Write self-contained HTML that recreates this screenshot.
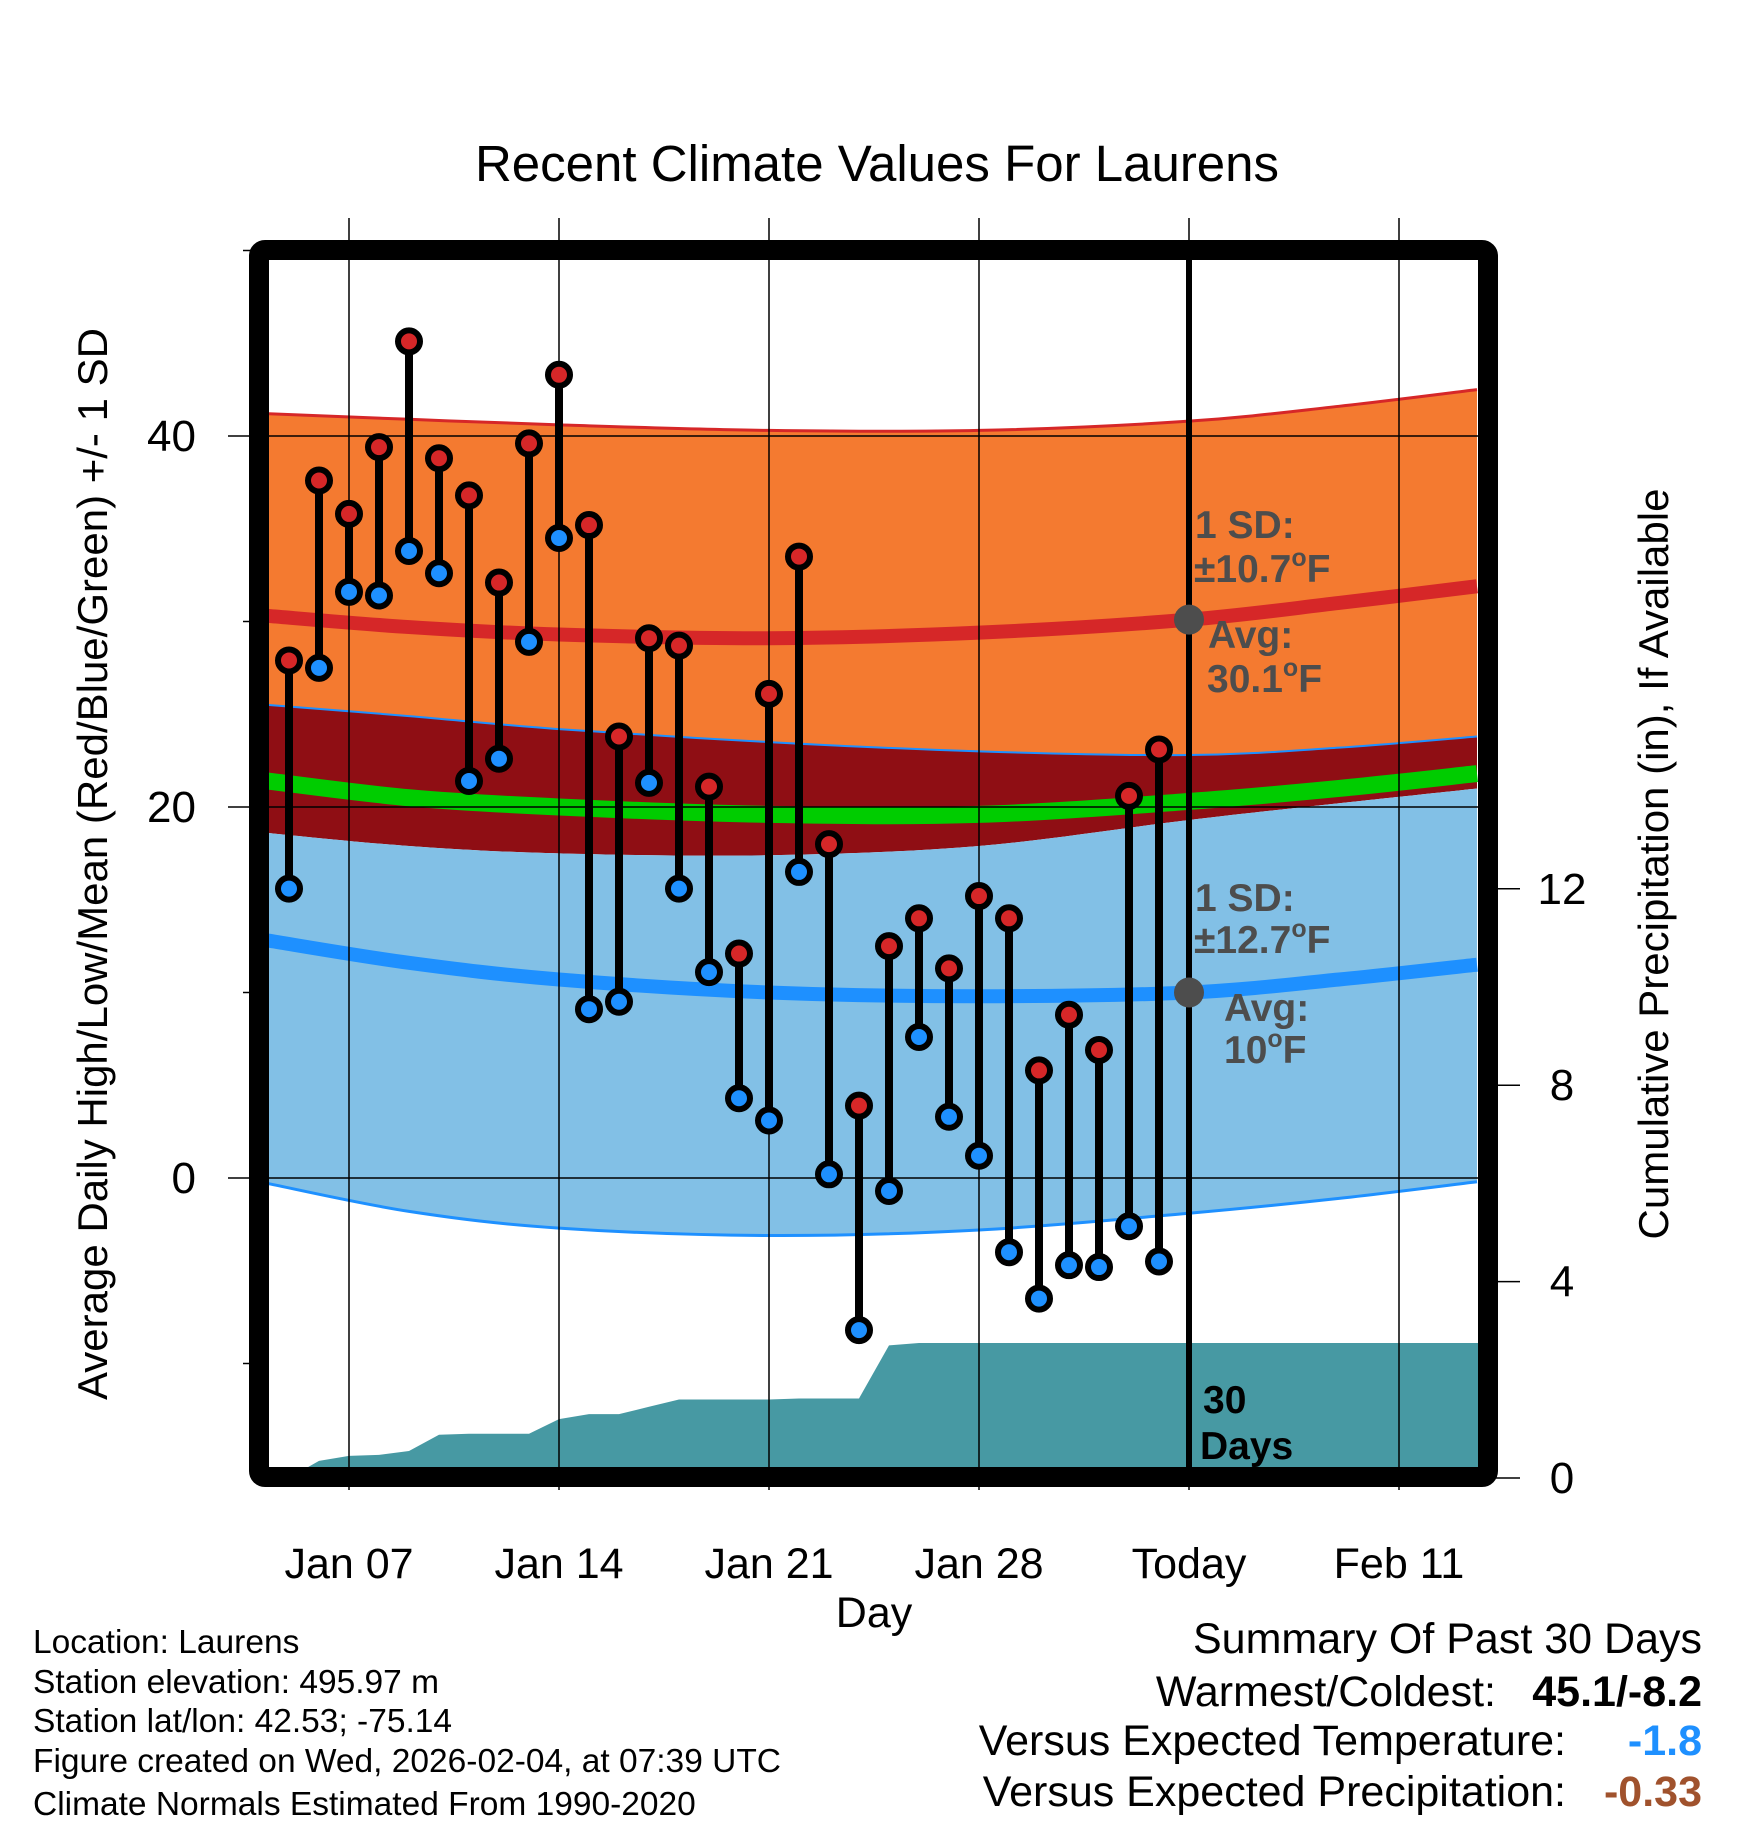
<!DOCTYPE html>
<html><head><meta charset="utf-8"><style>
html,body{margin:0;padding:0;background:#fff}
svg{display:block}
text{font-family:"Liberation Sans",Arial,sans-serif}
</style></head><body>
<svg id="chart" width="1748" height="1828" viewBox="0 0 1748 1828" xmlns="http://www.w3.org/2000/svg">
<defs><clipPath id="plotclip"><rect x="269" y="260" width="1209" height="1207"/></clipPath></defs>
<g id="layers" clip-path="url(#plotclip)"></g>
<g id="over"></g>
</svg>
<script>
// ---- data ----
const dayNums = [5,6,7,8,9,10,11,12,13,14,15,16,17,18,19,20,21,22,23,24,25,26,27,28,29,30,31,32,33,34];
const highs = [27.9,37.6,35.8,39.4,45.1,38.8,36.8,32.1,39.6,43.3,35.2,23.8,29.1,28.7,21.1,12.1,26.1,33.5,18.0,3.9,12.5,14.0,11.3,15.2,14.0,5.8,8.8,6.9,20.6,23.1];
const lows = [15.6,27.5,31.6,31.4,33.8,32.6,21.4,22.6,28.9,34.5,9.1,9.5,21.3,15.6,11.1,4.3,3.1,16.5,0.2,-8.2,-0.7,7.6,3.3,1.2,-4.0,-6.5,-4.7,-4.8,-2.6,-4.5];
const precip = [0.0,0.35,0.45,0.47,0.55,0.88,0.9,0.9,0.9,1.2,1.3,1.3,1.45,1.6,1.6,1.6,1.6,1.62,1.62,1.62,2.7,2.75,2.75,2.75,2.75,2.75,2.75,2.75,2.75,2.75];
const normDays = [4.3,9,14,21,28,35,40,44.6];
const hiUp = [41.2,40.9,40.6,40.3,40.3,40.8,41.6,42.5];
const hiMean = [30.3,29.7,29.3,29.1,29.4,30.1,31.0,31.9];
const hiDn = [25.5,24.9,24.2,23.5,23.0,22.8,23.2,23.8];
const meanT = [21.4,20.5,20.0,19.6,19.6,20.3,21.0,21.8];
const loUp = [18.6,17.9,17.5,17.4,17.9,19.3,20.2,21.0];
const loMean = [12.8,11.6,10.7,10.0,9.8,10.0,10.7,11.5];
const loDn = [-0.3,-1.8,-2.7,-3.1,-2.8,-1.9,-1.1,-0.2];
const xTickDays = [7,14,21,28,35,42];
const xTickLabels = ["Jan 07","Jan 14","Jan 21","Jan 28","Today","Feb 11"];
const yTicks = [0,20,40];
const yMinor = [-10,10,30,50];
const pTicks = [0,4,8,12];
const todayDay = 35;

// ---- scales ----
const X = d => 349 + (d-7)*30;
const Y = v => 436 + (40-v)*18.55;
const P = p => 1478 - p*49.1;
const NS = "http://www.w3.org/2000/svg";
const layers = document.getElementById('layers');
const over = document.getElementById('over');
function mk(tag, attrs, parent){const e=document.createElementNS(NS,tag);for(const k in attrs)e.setAttribute(k,attrs[k]);parent.appendChild(e);return e;}
function pts(vals){return normDays.map((d,i)=>[X(d),Y(vals[i])]);}
function smooth(p){let s='M'+p[0][0]+','+p[0][1];for(let i=0;i<p.length-1;i++){const p0=p[Math.max(0,i-1)],p1=p[i],p2=p[i+1],p3=p[Math.min(p.length-1,i+2)];s+=' C'+(p1[0]+(p2[0]-p0[0])/6)+','+(p1[1]+(p2[1]-p0[1])/6)+' '+(p2[0]-(p3[0]-p1[0])/6)+','+(p2[1]-(p3[1]-p1[1])/6)+' '+p2[0]+','+p2[1];}return s;}
function smoothRev(p){return smooth(p.slice().reverse()).replace('M','L');}
function band(a,b){return smooth(pts(a))+' '+smoothRev(pts(b))+' Z';}

let e;
e=mk('path',{d:band(hiUp,hiDn),fill:'#f47a30'},layers);

e=mk('path',{d:band(hiDn,loUp),fill:'#8f0e14'},layers);

e=mk('path',{d:band(loUp,loDn),fill:'#82c0e6'},layers);

e=mk('path',{d:smooth(pts(hiUp)),fill:'none',stroke:'#d62728','stroke-width':3},layers);

e=mk('path',{d:smooth(pts(hiDn)),fill:'none',stroke:'#1e90ff','stroke-width':2},layers);

e=mk('path',{d:smooth(pts(loDn)),fill:'none',stroke:'#1e90ff','stroke-width':3},layers);

e=mk('path',{d:smooth(pts(meanT)),fill:'none',stroke:'#00cc00','stroke-width':17},layers);

e=mk('path',{d:smooth(pts(hiMean)),fill:'none',stroke:'#d62728','stroke-width':14},layers);

e=mk('path',{d:smooth(pts(loMean)),fill:'none',stroke:'#1e90ff','stroke-width':14},layers);


// precip area
let pd='M'+(X(dayNums[0])-15)+',1470 L'+(X(dayNums[0])-15)+','+P(precip[0]);
dayNums.forEach((d,i)=>{pd+=' L'+X(d)+','+P(precip[i]);});
pd+=' L1480,'+P(precip[precip.length-1])+' L1480,1470 Z';
e=mk('path',{d:pd,fill:'#4799a3'},layers);


// gridlines
xTickDays.forEach(d=>{
  e=mk('line',{x1:X(d),x2:X(d),y1:218,y2:1490,stroke:'#000','stroke-width':1.5},over);
  
});
yTicks.forEach(v=>{
  e=mk('line',{x1:228,x2:1478,y1:Y(v),y2:Y(v),stroke:'#000','stroke-width':1.5},over);
  
  e=mk('text',{x:196,y:Y(v)+15,'text-anchor':'end','font-size':44},over);e.textContent=v;
  
});
yMinor.forEach(v=>{
  e=mk('line',{x1:243,x2:252,y1:Y(v),y2:Y(v),stroke:'#000','stroke-width':1.5},over);
  
});
pTicks.forEach(p=>{
  e=mk('text',{x:1562,y:P(p)+15,'text-anchor':'middle','font-size':44},over);e.textContent=p;
  
  e=mk('line',{x1:1496,x2:1520,y1:P(p),y2:P(p),stroke:'#000','stroke-width':1.5},over);
  
});
xTickDays.forEach((d,i)=>{
  e=mk('text',{x:X(d),y:1578,'text-anchor':'middle','font-size':43},over);e.textContent=xTickLabels[i];
  
});

// today line
e=mk('line',{x1:X(todayDay),x2:X(todayDay),y1:258,y2:1470,stroke:'#000','stroke-width':6},over);


// stems and markers
dayNums.forEach((d,i)=>{
  e=mk('line',{x1:X(d),x2:X(d),y1:Y(highs[i]),y2:Y(lows[i]),stroke:'#000','stroke-width':8},over);
  
});
dayNums.forEach((d,i)=>{
  e=mk('circle',{cx:X(d),cy:Y(highs[i]),r:11,fill:'#d62728',stroke:'#000','stroke-width':6},over);
  
  e=mk('circle',{cx:X(d),cy:Y(lows[i]),r:11,fill:'#1e90ff',stroke:'#000','stroke-width':6},over);
  
});
e=mk('circle',{cx:X(todayDay),cy:Y(hiMean[5]),r:15,fill:'#4d4d4d'},over);

e=mk('circle',{cx:X(todayDay),cy:Y(loMean[5]),r:15,fill:'#4d4d4d'},over);


// frame
e=mk('rect',{x:259,y:250,width:1229,height:1227,fill:'none',stroke:'#000','stroke-width':20,rx:6},over);

</script>
<svg width="1748" height="1828" style="position:absolute;left:0;top:0" xmlns="http://www.w3.org/2000/svg">
<g font-family="Liberation Sans, Arial, sans-serif">
<text x="877" y="181" text-anchor="middle" font-size="51">Recent Climate Values For Laurens</text>
<text x="874" y="1627" text-anchor="middle" font-size="43">Day</text>
<text transform="translate(107,864) rotate(-90)" text-anchor="middle" font-size="42">Average Daily High/Low/Mean (Red/Blue/Green) +/- 1 SD</text>
<text transform="translate(1668,864) rotate(-90)" text-anchor="middle" font-size="42">Cumulative Precipitation (in), If Available</text>
<g fill="#4d4d4d" font-weight="bold" font-size="39">
<text x="1195" y="538">1 SD:</text>
<text x="1194" y="582">±10.7<tspan font-size="25" dy="-16">o</tspan><tspan dy="16">F</tspan></text>
<text x="1208" y="648">Avg:</text>
<text x="1207" y="692">30.1<tspan font-size="25" dy="-16">o</tspan><tspan dy="16">F</tspan></text>
<text x="1195" y="911">1 SD:</text>
<text x="1194" y="953">±12.7<tspan font-size="25" dy="-16">o</tspan><tspan dy="16">F</tspan></text>
<text x="1224" y="1021">Avg:</text>
<text x="1224" y="1063">10<tspan font-size="25" dy="-16">o</tspan><tspan dy="16">F</tspan></text>
</g>
<g font-weight="bold" font-size="39" fill="#000">
<text x="1203" y="1413">30</text>
<text x="1200" y="1459">Days</text>
</g>
<g font-size="33.5" fill="#000">
<text x="33" y="1653">Location: Laurens</text>
<text x="33" y="1693">Station elevation: 495.97 m</text>
<text x="33" y="1732">Station lat/lon: 42.53; -75.14</text>
<text x="33" y="1772">Figure created on Wed, 2026-02-04, at 07:39 UTC</text>
<text x="33" y="1815">Climate Normals Estimated From 1990-2020</text>
</g>
<g font-size="43" fill="#000" text-anchor="end">
<text x="1702" y="1653">Summary Of Past 30 Days</text>
<text x="1496" y="1706">Warmest/Coldest:</text>
<text x="1702" y="1706" font-weight="bold">45.1/-8.2</text>
<text x="1566" y="1755">Versus Expected Temperature:</text>
<text x="1702" y="1755" font-weight="bold" fill="#1e90ff">-1.8</text>
<text x="1566" y="1806">Versus Expected Precipitation:</text>
<text x="1702" y="1806" font-weight="bold" fill="#a0522d">-0.33</text>
</g>
</g>
</svg>
</body></html>
